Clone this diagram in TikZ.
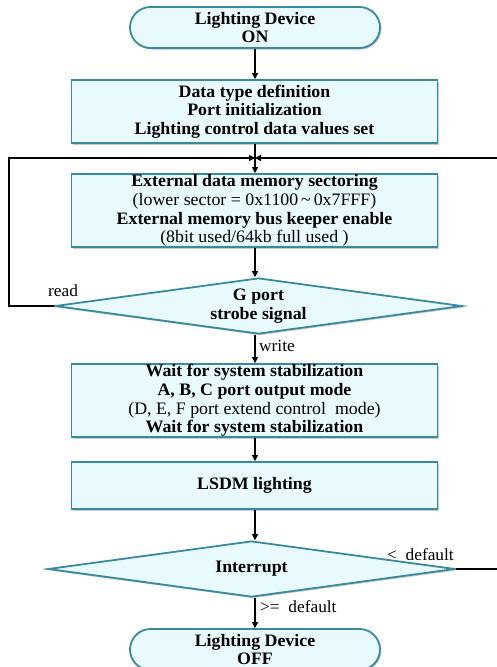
\documentclass[tikz,border=0pt]{standalone}
\usepackage{fontspec}
\setmainfont{Liberation Serif}[FakeStretch=1.02]
\usetikzlibrary{arrows.meta,shapes.geometric,shapes.misc,shadows}
\definecolor{boxfill}{HTML}{E8FAFE}
\definecolor{boxborder}{HTML}{3A8A9E}
\tikzset{
  base/.style={draw=boxborder, line width=1.8pt, fill=boxfill, align=center, inner sep=0pt,
    drop shadow={shadow xshift=1.5pt, shadow yshift=-1.5pt, opacity=0.35, fill=black!60},
    font={\fontsize{17.5}{18.7}\selectfont\bfseries}},
  proc/.style={base, rectangle, minimum width=366pt},
  term/.style={base, rounded rectangle, minimum width=250pt, minimum height=41pt,
    font={\fontsize{17.5}{17.5}\selectfont\bfseries}},
  dec/.style={base, diamond, shape aspect=7.27, minimum height=56pt},
  conn/.style={line width=1.4pt, black},
  arr/.style={conn, -{Triangle[length=6pt,width=6pt]}},
  lbl/.style={font={\fontsize{17}{18}\selectfont}, inner sep=0pt}
}
\begin{document}
\begin{tikzpicture}[x=1pt,y=-1pt]
\useasboundingbox (0,0) rectangle (496,667);
\node[term] (on) at (255,27.5) {Lighting Device\\ON};
\node[proc, minimum height=63pt] (init) at (254.5,111.5) {Data type definition\\Port initialization\\Lighting control data values set};
\coordinate (merge) at (255,158);
\node[proc, minimum height=73pt] (mem) at (254.5,210.5) {External data memory sectoring\\\mdseries(lower sector = 0x1100\,\textasciitilde\,0x7FFF)\\External memory bus keeper enable\\\mdseries(8bit used/64kb full used )};
\node[dec, minimum width=407pt] (gport) at (258.5,306) {G port\\strobe signal};
\node[proc, minimum height=73pt] (wait) at (254.5,400.5) {Wait for system stabilization\\A, B, C port output mode\\\mdseries(D, E, F port extend control~ mode)\\Wait for system stabilization};
\node[proc, minimum height=47pt] (lsdm) at (254.5,485.5) {LSDM lighting};
\node[dec, minimum width=407pt] (intr) at (251.5,569) {Interrupt};
\node[term] (off) at (255,649.5) {Lighting Device\\OFF};
\coordinate (lcorner1) at (9,306);
\coordinate (lcorner2) at (9,158);
\coordinate (rcorner1) at (520,569);
\coordinate (rcorner2) at (520,158);
\draw[arr] (on.south) -- (init.north -| on.south);
\draw[conn] (init.south -| merge) -- (merge);
\draw[arr] (merge) -- (mem.north -| merge);
\draw[arr] (mem.south -| merge) -- (gport.north -| merge);
\draw[arr] (gport.west) -- (lcorner1) -- (lcorner2) -- (merge);
\draw[arr] (gport.south -| merge) -- (wait.north -| merge);
\draw[arr] (wait.south -| merge) -- (lsdm.north -| merge);
\draw[arr] (lsdm.south -| merge) -- (intr.north -| merge);
\draw[arr] (intr.east) -- (rcorner1) -- (rcorner2) -- (merge);
\draw[arr] (intr.south -| merge) -- (off.north -| merge);
\node[lbl, anchor=west] (read) at (48,291) {read};
\node[lbl, anchor=west] (write) at (259,346) {write};
\node[lbl, anchor=west] (lt) at (387,555) {<~ default};
\node[lbl, anchor=west] (ge) at (260,607) {>=~ default};
\end{tikzpicture}
\end{document}
